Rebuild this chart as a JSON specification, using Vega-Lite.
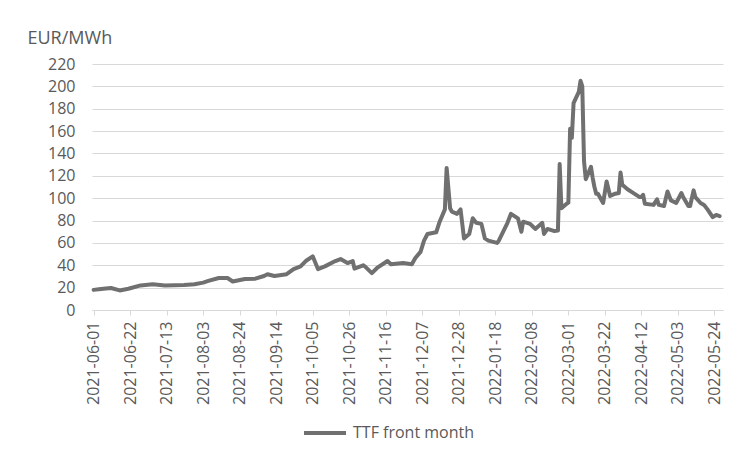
{
  "$schema": "https://vega.github.io/schema/vega-lite/v6.json",
  "width": 631,
  "height": 246,
  "autosize": {"type": "none"},
  "padding": {"left": 92, "top": 64, "right": 27, "bottom": 145},
  "background": "white",
  "config": {
    "view": {"stroke": null},
    "font": "Open Sans"
  },
  "data": {
    "values": [
      {"date": "2021-06-01", "price": 18, "series": "TTF front month"},
      {"date": "2021-06-04", "price": 18.5, "series": "TTF front month"},
      {"date": "2021-06-08", "price": 19.2, "series": "TTF front month"},
      {"date": "2021-06-11", "price": 19.7, "series": "TTF front month"},
      {"date": "2021-06-16", "price": 17.5, "series": "TTF front month"},
      {"date": "2021-06-21", "price": 19, "series": "TTF front month"},
      {"date": "2021-06-28", "price": 22, "series": "TTF front month"},
      {"date": "2021-07-05", "price": 23, "series": "TTF front month"},
      {"date": "2021-07-12", "price": 22, "series": "TTF front month"},
      {"date": "2021-07-23", "price": 22.4, "series": "TTF front month"},
      {"date": "2021-07-29", "price": 23, "series": "TTF front month"},
      {"date": "2021-08-03", "price": 24.5, "series": "TTF front month"},
      {"date": "2021-08-06", "price": 26, "series": "TTF front month"},
      {"date": "2021-08-12", "price": 28.6, "series": "TTF front month"},
      {"date": "2021-08-17", "price": 28.6, "series": "TTF front month"},
      {"date": "2021-08-20", "price": 25.5, "series": "TTF front month"},
      {"date": "2021-08-27", "price": 27.7, "series": "TTF front month"},
      {"date": "2021-09-02", "price": 28, "series": "TTF front month"},
      {"date": "2021-09-07", "price": 30.4, "series": "TTF front month"},
      {"date": "2021-09-09", "price": 32, "series": "TTF front month"},
      {"date": "2021-09-13", "price": 30.4, "series": "TTF front month"},
      {"date": "2021-09-20", "price": 32, "series": "TTF front month"},
      {"date": "2021-09-24", "price": 36.6, "series": "TTF front month"},
      {"date": "2021-09-28", "price": 39, "series": "TTF front month"},
      {"date": "2021-10-01", "price": 43.8, "series": "TTF front month"},
      {"date": "2021-10-05", "price": 48, "series": "TTF front month"},
      {"date": "2021-10-08", "price": 36.6, "series": "TTF front month"},
      {"date": "2021-10-12", "price": 39, "series": "TTF front month"},
      {"date": "2021-10-18", "price": 43.8, "series": "TTF front month"},
      {"date": "2021-10-21", "price": 45.6, "series": "TTF front month"},
      {"date": "2021-10-25", "price": 42, "series": "TTF front month"},
      {"date": "2021-10-28", "price": 43.8, "series": "TTF front month"},
      {"date": "2021-10-29", "price": 37, "series": "TTF front month"},
      {"date": "2021-11-03", "price": 40, "series": "TTF front month"},
      {"date": "2021-11-04", "price": 39, "series": "TTF front month"},
      {"date": "2021-11-08", "price": 33, "series": "TTF front month"},
      {"date": "2021-11-11", "price": 37.6, "series": "TTF front month"},
      {"date": "2021-11-17", "price": 43.8, "series": "TTF front month"},
      {"date": "2021-11-19", "price": 41, "series": "TTF front month"},
      {"date": "2021-11-26", "price": 42, "series": "TTF front month"},
      {"date": "2021-12-01", "price": 41, "series": "TTF front month"},
      {"date": "2021-12-03", "price": 46.5, "series": "TTF front month"},
      {"date": "2021-12-06", "price": 52, "series": "TTF front month"},
      {"date": "2021-12-08", "price": 62, "series": "TTF front month"},
      {"date": "2021-12-10", "price": 68, "series": "TTF front month"},
      {"date": "2021-12-15", "price": 69.5, "series": "TTF front month"},
      {"date": "2021-12-17", "price": 79, "series": "TTF front month"},
      {"date": "2021-12-20", "price": 90, "series": "TTF front month"},
      {"date": "2021-12-21", "price": 127, "series": "TTF front month"},
      {"date": "2021-12-23", "price": 91, "series": "TTF front month"},
      {"date": "2021-12-24", "price": 88, "series": "TTF front month"},
      {"date": "2021-12-27", "price": 86, "series": "TTF front month"},
      {"date": "2021-12-29", "price": 90, "series": "TTF front month"},
      {"date": "2021-12-31", "price": 64, "series": "TTF front month"},
      {"date": "2022-01-03", "price": 68, "series": "TTF front month"},
      {"date": "2022-01-05", "price": 82, "series": "TTF front month"},
      {"date": "2022-01-07", "price": 78, "series": "TTF front month"},
      {"date": "2022-01-10", "price": 77, "series": "TTF front month"},
      {"date": "2022-01-12", "price": 64, "series": "TTF front month"},
      {"date": "2022-01-14", "price": 62, "series": "TTF front month"},
      {"date": "2022-01-19", "price": 60, "series": "TTF front month"},
      {"date": "2022-01-20", "price": 62, "series": "TTF front month"},
      {"date": "2022-01-25", "price": 78, "series": "TTF front month"},
      {"date": "2022-01-27", "price": 86, "series": "TTF front month"},
      {"date": "2022-01-31", "price": 82, "series": "TTF front month"},
      {"date": "2022-02-02", "price": 70, "series": "TTF front month"},
      {"date": "2022-02-03", "price": 79, "series": "TTF front month"},
      {"date": "2022-02-07", "price": 77, "series": "TTF front month"},
      {"date": "2022-02-09", "price": 74, "series": "TTF front month"},
      {"date": "2022-02-10", "price": 72.5, "series": "TTF front month"},
      {"date": "2022-02-14", "price": 78, "series": "TTF front month"},
      {"date": "2022-02-15", "price": 68, "series": "TTF front month"},
      {"date": "2022-02-17", "price": 72.5, "series": "TTF front month"},
      {"date": "2022-02-21", "price": 70.6, "series": "TTF front month"},
      {"date": "2022-02-23", "price": 71, "series": "TTF front month"},
      {"date": "2022-02-24", "price": 130.5, "series": "TTF front month"},
      {"date": "2022-02-25", "price": 91, "series": "TTF front month"},
      {"date": "2022-02-28", "price": 95, "series": "TTF front month"},
      {"date": "2022-03-01", "price": 96, "series": "TTF front month"},
      {"date": "2022-03-02", "price": 162, "series": "TTF front month"},
      {"date": "2022-03-03", "price": 154, "series": "TTF front month"},
      {"date": "2022-03-04", "price": 185, "series": "TTF front month"},
      {"date": "2022-03-07", "price": 195, "series": "TTF front month"},
      {"date": "2022-03-08", "price": 205, "series": "TTF front month"},
      {"date": "2022-03-09", "price": 200, "series": "TTF front month"},
      {"date": "2022-03-10", "price": 133, "series": "TTF front month"},
      {"date": "2022-03-11", "price": 117, "series": "TTF front month"},
      {"date": "2022-03-14", "price": 128, "series": "TTF front month"},
      {"date": "2022-03-15", "price": 118, "series": "TTF front month"},
      {"date": "2022-03-16", "price": 110, "series": "TTF front month"},
      {"date": "2022-03-17", "price": 104, "series": "TTF front month"},
      {"date": "2022-03-18", "price": 104, "series": "TTF front month"},
      {"date": "2022-03-21", "price": 95.7, "series": "TTF front month"},
      {"date": "2022-03-23", "price": 115, "series": "TTF front month"},
      {"date": "2022-03-25", "price": 102, "series": "TTF front month"},
      {"date": "2022-03-28", "price": 104, "series": "TTF front month"},
      {"date": "2022-03-30", "price": 104.6, "series": "TTF front month"},
      {"date": "2022-03-31", "price": 123, "series": "TTF front month"},
      {"date": "2022-04-01", "price": 112, "series": "TTF front month"},
      {"date": "2022-04-04", "price": 108, "series": "TTF front month"},
      {"date": "2022-04-07", "price": 105, "series": "TTF front month"},
      {"date": "2022-04-11", "price": 101, "series": "TTF front month"},
      {"date": "2022-04-12", "price": 101, "series": "TTF front month"},
      {"date": "2022-04-13", "price": 103, "series": "TTF front month"},
      {"date": "2022-04-14", "price": 95, "series": "TTF front month"},
      {"date": "2022-04-19", "price": 94, "series": "TTF front month"},
      {"date": "2022-04-21", "price": 99, "series": "TTF front month"},
      {"date": "2022-04-22", "price": 94, "series": "TTF front month"},
      {"date": "2022-04-25", "price": 93, "series": "TTF front month"},
      {"date": "2022-04-27", "price": 106, "series": "TTF front month"},
      {"date": "2022-04-29", "price": 98, "series": "TTF front month"},
      {"date": "2022-05-02", "price": 95.7, "series": "TTF front month"},
      {"date": "2022-05-05", "price": 104.6, "series": "TTF front month"},
      {"date": "2022-05-06", "price": 101, "series": "TTF front month"},
      {"date": "2022-05-09", "price": 93, "series": "TTF front month"},
      {"date": "2022-05-10", "price": 93, "series": "TTF front month"},
      {"date": "2022-05-12", "price": 107, "series": "TTF front month"},
      {"date": "2022-05-13", "price": 101, "series": "TTF front month"},
      {"date": "2022-05-16", "price": 95.7, "series": "TTF front month"},
      {"date": "2022-05-18", "price": 94, "series": "TTF front month"},
      {"date": "2022-05-20", "price": 90, "series": "TTF front month"},
      {"date": "2022-05-23", "price": 83, "series": "TTF front month"},
      {"date": "2022-05-25", "price": 85, "series": "TTF front month"},
      {"date": "2022-05-27", "price": 84, "series": "TTF front month"}
    ]
  },
  "mark": {"type": "line", "strokeWidth": 4, "strokeJoin": "round", "strokeCap": "round"},
  "encoding": {
    "x": {
      "field": "date",
      "type": "temporal",
      "scale": {
        "type": "utc",
        "domain": [
          {"year": 2021, "month": 5, "date": 31, "hours": 2, "utc": true},
          {"year": 2022, "month": 5, "date": 28, "hours": 22, "utc": true}
        ]
      },
      "axis": {
        "title": null,
        "format": "%Y-%m-%d",
        "values": [
          {"year": 2021, "month": 6, "date": 1, "utc": true},
          {"year": 2021, "month": 6, "date": 22, "utc": true},
          {"year": 2021, "month": 7, "date": 13, "utc": true},
          {"year": 2021, "month": 8, "date": 3, "utc": true},
          {"year": 2021, "month": 8, "date": 24, "utc": true},
          {"year": 2021, "month": 9, "date": 14, "utc": true},
          {"year": 2021, "month": 10, "date": 5, "utc": true},
          {"year": 2021, "month": 10, "date": 26, "utc": true},
          {"year": 2021, "month": 11, "date": 16, "utc": true},
          {"year": 2021, "month": 12, "date": 7, "utc": true},
          {"year": 2021, "month": 12, "date": 28, "utc": true},
          {"year": 2022, "month": 1, "date": 18, "utc": true},
          {"year": 2022, "month": 2, "date": 8, "utc": true},
          {"year": 2022, "month": 3, "date": 1, "utc": true},
          {"year": 2022, "month": 3, "date": 22, "utc": true},
          {"year": 2022, "month": 4, "date": 12, "utc": true},
          {"year": 2022, "month": 5, "date": 3, "utc": true},
          {"year": 2022, "month": 5, "date": 24, "utc": true}
        ],
        "labelAngle": -90,
        "labelFont": "Open Sans",
        "labelFontSize": 16,
        "labelColor": "#595959",
        "labelPadding": 6,
        "labelOverlap": false,
        "labelFlush": false,
        "grid": false,
        "domainColor": "#d9d9d9",
        "domainWidth": 1,
        "tickColor": "#d9d9d9",
        "tickSize": 5
      }
    },
    "y": {
      "field": "price",
      "type": "quantitative",
      "scale": {"domain": [0, 220], "nice": false},
      "axis": {
        "values": [0, 20, 40, 60, 80, 100, 120, 140, 160, 180, 200, 220],
        "title": "EUR/MWh",
        "titleAngle": 0,
        "titleAlign": "left",
        "titleBaseline": "middle",
        "titleX": -65,
        "titleY": -26,
        "titleFont": "Open Sans",
        "titleFontSize": 18,
        "titleFontWeight": "normal",
        "titleColor": "#595959",
        "labelFont": "Open Sans",
        "labelFontSize": 16,
        "labelColor": "#595959",
        "labelPadding": 17,
        "ticks": false,
        "domain": false,
        "grid": true,
        "gridColor": "#d9d9d9",
        "gridWidth": 1
      }
    },
    "color": {
      "field": "series",
      "type": "nominal",
      "scale": {"range": ["#707070"]},
      "legend": {
        "title": null,
        "orient": "none",
        "legendX": 210,
        "legendY": 346,
        "symbolType": "stroke",
        "symbolSize": 1764,
        "symbolStrokeWidth": 4,
        "labelFont": "Open Sans",
        "labelFontSize": 16,
        "labelColor": "#595959",
        "labelOffset": 5
      }
    }
  }
}
